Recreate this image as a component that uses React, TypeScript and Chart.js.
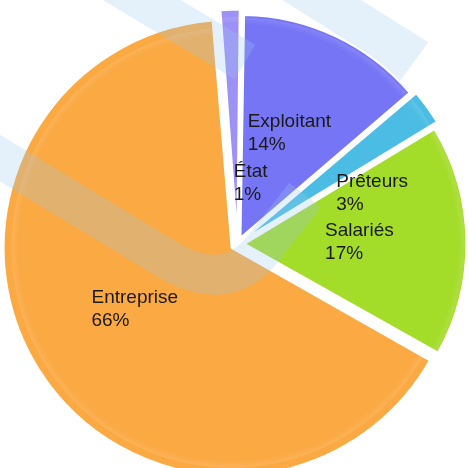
import { useEffect, useRef } from "react";
import { Chart, ArcElement, PieController } from "chart.js";

Chart.register(ArcElement, PieController);

// ---- data ----
const categories = ["État", "Exploitant", "Prêteurs", "Salariés", "Entreprise"];
const shares = [1.49, 13.51, 2.6, 16.8, 65.6];
const sliceColors = ["#9d90f6", "#7675f6", "#4bbde4", "#a4dc2a", "#fba943"];

// label placement (angle shift in degrees from the slice bisector, radial fraction)
const labelPlacement = [
  { shift: 14, r: 0.25 },
  { shift: 0, r: 0.52 },
  { shift: 15, r: 0.62 },
  { shift: 0, r: 0.52 },
  { shift: 0, r: 0.52 },
];

const WM_COLOR = "rgba(155,200,237,0.27)";

function arcGeom(chart: any) {
  const meta = chart.getDatasetMeta(0);
  const ds = chart.data.datasets[0];
  const off = (ds.offset as number) / 4; // actual translation in px
  return meta.data.map((arc: any) => {
    const p = arc.getProps(["x", "y", "startAngle", "endAngle", "outerRadius"], true);
    const mid = (p.startAngle + p.endAngle) / 2;
    return { ...p, mid, cx: p.x + Math.cos(mid) * off, cy: p.y + Math.sin(mid) * off, off };
  });
}

const watermarkBehind = {
  id: "watermarkBehind",
  beforeDatasetsDraw(chart: any) {
    const ctx: CanvasRenderingContext2D = chart.ctx;
    ctx.save();
    ctx.strokeStyle = WM_COLOR;
    ctx.lineWidth = 42;
    ctx.lineCap = "butt";
    ctx.lineJoin = "miter";
    ctx.beginPath();
    ctx.moveTo(282, -25);
    ctx.lineTo(398, 48);
    ctx.lineTo(360, 100);
    ctx.stroke();
    ctx.restore();
  },
};

const rimPlugin = {
  id: "rim",
  afterDatasetsDraw(chart: any) {
    const ctx: CanvasRenderingContext2D = chart.ctx;
    arcGeom(chart).forEach((g: any) => {
      ctx.save();
      ctx.beginPath();
      ctx.moveTo(g.cx, g.cy);
      ctx.arc(g.cx, g.cy, g.outerRadius - 1, g.startAngle, g.endAngle);
      ctx.closePath();
      ctx.clip();
      const grad = ctx.createRadialGradient(g.cx, g.cy, g.outerRadius - 8, g.cx, g.cy, g.outerRadius);
      grad.addColorStop(0, "rgba(255,255,255,0)");
      grad.addColorStop(1, "rgba(255,255,255,0.13)");
      ctx.fillStyle = grad;
      ctx.fillRect(0, 0, chart.width, chart.height);
      ctx.restore();
    });
  },
};

const watermarkAbove = {
  id: "watermarkAbove",
  afterDatasetsDraw(chart: any) {
    const ctx: CanvasRenderingContext2D = chart.ctx;
    ctx.save();
    ctx.strokeStyle = WM_COLOR;
    ctx.lineWidth = 40;
    ctx.lineCap = "butt";
    ctx.lineJoin = "round";
    ctx.beginPath();
    ctx.moveTo(-30, 140);
    ctx.lineTo(165, 258);
    ctx.quadraticCurveTo(225, 295, 262, 250);
    ctx.lineTo(305, 195);
    ctx.stroke();
    ctx.beginPath();
    ctx.moveTo(100, -25);
    ctx.lineTo(245, 62);
    ctx.stroke();
    ctx.restore();
  },
};

const labelPlugin = {
  id: "sliceLabels",
  afterDatasetsDraw(chart: any) {
    const ctx: CanvasRenderingContext2D = chart.ctx;
    const ds = chart.data.datasets[0];
    const values: number[] = ds.data;
    const total = values.reduce((a, b) => a + b, 0);
    ctx.save();
    ctx.font = "19px 'Liberation Sans', Arial, sans-serif";
    ctx.fillStyle = "#1a1a1a";
    ctx.textBaseline = "middle";
    ctx.textAlign = "left";
    arcGeom(chart).forEach((g: any, i: number) => {
      const p = labelPlacement[i];
      const a = g.mid + (p.shift * Math.PI) / 180;
      const rr = g.off + p.r * g.outerRadius;
      const px = g.x + Math.cos(a) * rr;
      const py = g.y + Math.sin(a) * rr;
      const lines = [categories[i], Math.round((values[i] / total) * 100) + "%"];
      const w = Math.max(...lines.map((l) => ctx.measureText(l).width));
      const lh = 23;
      lines.forEach((l, k) => ctx.fillText(l, px - w / 2, py + (k - 0.5) * lh));
    });
    ctx.restore();
  },
};

export default function App() {
  const ref = useRef<HTMLCanvasElement | null>(null);
  useEffect(() => {
    if (!ref.current) return;
    const chart = new Chart(ref.current, {
      type: "pie",
      data: {
        labels: categories,
        datasets: [
          {
            data: shares,
            backgroundColor: sliceColors,
            borderColor: "#ffffff",
            borderWidth: 2,
            offset: 28,
            clip: false,
          } as any,
        ],
      },
      options: {
        responsive: false,
        animation: false,
        rotation: -4.5,
        radius: 221,
        events: [],
        layout: { padding: { left: 11, right: 5, top: 20, bottom: 0 } },
      } as any,
      plugins: [watermarkBehind, rimPlugin, watermarkAbove, labelPlugin],
    });
    return () => chart.destroy();
  }, []);
  return (
    <div style={{ position: "absolute", left: 0, top: 0, width: 469, height: 468, background: "#fff" }}>
      <canvas ref={ref} width={469} height={468} style={{ width: 469, height: 468, display: "block" }} />
    </div>
  );
}
